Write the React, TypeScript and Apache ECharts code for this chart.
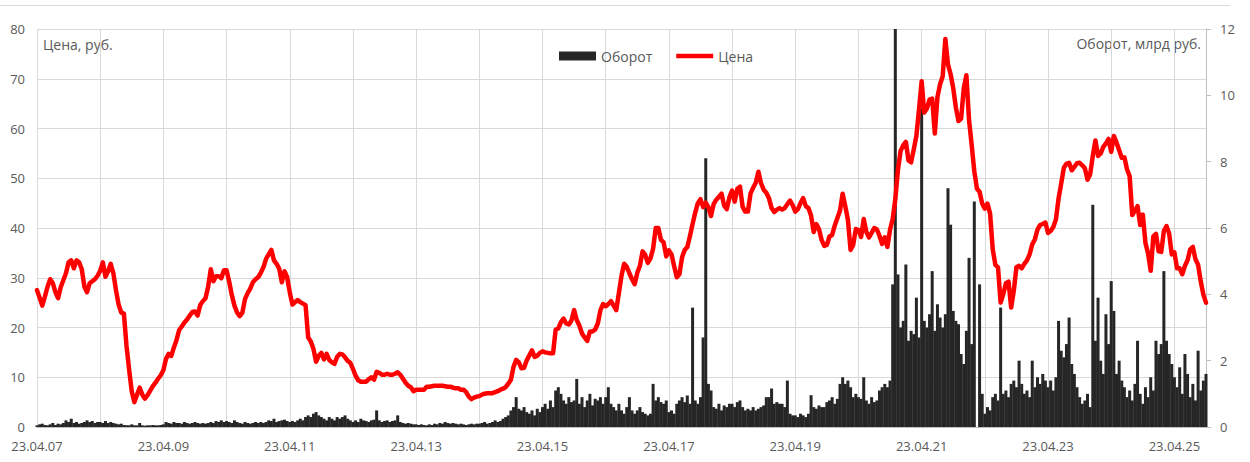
import React, { useEffect, useRef } from "react";
import * as echarts from "echarts";

// Price, rub. — one value per half month, starting 23.04.2007
const priceHalfMonthly = [
  27.5, 26.0, 24.4, 26.2, 28.2, 29.7, 28.9, 27.1, 25.9, 28.1, 29.5, 30.9, 33.1, 33.5, 31.9, 33.5, 33.1, 31.7, 28.2, 27.1, 28.9, 29.3, 29.7, 30.4,
  31.4, 33.1, 30.2, 31.3, 32.8, 30.9, 27.5, 24.6, 23.0, 22.8, 16.3, 11.5, 7.1, 5.0, 6.5, 7.9, 6.5, 5.7, 6.4, 7.3, 8.2, 8.9, 9.7, 10.4,
  11.4, 13.7, 14.7, 14.3, 16.0, 17.5, 19.5, 20.2, 21.0, 21.6, 22.4, 23.1, 23.2, 22.4, 24.5, 25.3, 25.9, 28.2, 31.7, 29.3, 30.3, 30.3, 29.9, 31.5,
  31.5, 29.2, 26.5, 24.4, 23.0, 22.3, 23.0, 25.7, 26.9, 27.8, 29.1, 29.7, 30.1, 31.0, 32.1, 33.8, 34.7, 35.6, 33.5, 32.8, 31.8, 29.1, 31.3, 30.1,
  27.1, 24.6, 25.1, 25.5, 25.1, 24.8, 24.5, 18.0, 17.2, 15.7, 13.1, 14.3, 14.9, 13.6, 14.7, 13.5, 13.0, 12.7, 14.1, 14.7, 14.6, 14.0, 13.3, 12.9,
  11.7, 10.3, 9.4, 9.1, 9.1, 9.1, 9.6, 10.0, 9.5, 11.1, 10.9, 10.5, 10.5, 10.7, 10.5, 10.5, 10.7, 11.0, 10.5, 9.7, 8.9, 8.3, 8.0, 7.2,
  7.5, 7.5, 7.5, 7.5, 8.1, 8.1, 8.2, 8.3, 8.3, 8.3, 8.3, 8.2, 8.1, 8.1, 7.9, 7.8, 7.8, 7.5, 7.5, 7.0, 6.1, 5.6, 5.9, 6.1,
  6.2, 6.5, 6.7, 6.8, 6.8, 6.8, 7.0, 7.2, 7.5, 7.7, 8.0, 8.7, 9.5, 12.1, 13.5, 13.0, 11.8, 11.9, 13.4, 14.4, 15.4, 14.1, 14.3, 14.9,
  15.2, 15.0, 14.9, 14.8, 14.8, 19.6, 19.8, 21.1, 21.8, 20.8, 20.6, 21.4, 23.5, 21.5, 20.4, 18.8, 18.0, 17.3, 19.2, 19.2, 19.6, 20.8, 23.5, 24.7,
  24.3, 24.7, 25.3, 24.4, 23.5, 26.9, 30.4, 32.8, 32.2, 30.9, 29.7, 28.7, 31.0, 32.4, 35.3, 34.6, 33.0, 33.9, 35.8, 40.0, 40.0, 37.6, 37.1, 34.3,
  35.5, 34.7, 32.3, 30.1, 30.7, 34.1, 35.6, 36.2, 38.4, 40.8, 43.1, 45.0, 45.8, 44.2, 45.1, 44.2, 42.4, 44.8, 45.7, 46.3, 46.9, 44.5, 43.8, 46.2,
  47.5, 45.3, 47.9, 48.3, 44.3, 43.3, 43.3, 46.9, 48.1, 49.1, 51.3, 49.0, 47.7, 47.1, 46.0, 44.0, 43.2, 43.7, 44.0, 43.7, 44.0, 44.8, 45.5, 44.6,
  43.3, 43.8, 45.0, 46.0, 44.4, 44.0, 42.5, 39.2, 40.8, 39.8, 37.6, 36.4, 36.6, 38.3, 38.6, 40.5, 42.0, 43.5, 46.9, 44.4, 41.6, 35.6, 36.6, 39.8,
  39.6, 38.2, 41.8, 39.2, 38.1, 39.0, 40.0, 39.7, 38.4, 36.8, 38.1, 36.2, 39.7, 41.8, 45.8, 51.7, 55.5, 56.6, 57.3, 53.6, 53.2, 55.8, 58.5, 63.8,
  69.5, 63.2, 64.0, 65.8, 66.0, 59.0, 66.3, 68.9, 70.5, 78.0, 72.9, 70.9, 68.1, 64.2, 61.5, 62.0, 68.1, 70.7, 61.7, 56.7, 51.4, 47.9, 47.3, 44.9,
  43.9, 44.9, 42.9, 35.7, 32.6, 32.1, 25.0, 26.7, 28.9, 29.2, 24.0, 27.4, 32.1, 32.4, 31.9, 32.8, 33.5, 34.7, 36.7, 37.7, 39.7, 40.6, 40.8, 41.1,
  39.0, 39.4, 40.2, 41.7, 45.9, 48.9, 52.1, 52.9, 53.1, 51.6, 52.3, 53.0, 53.1, 52.6, 52.0, 49.7, 50.8, 54.5, 57.6, 54.5, 55.0, 56.3, 57.0, 57.9,
  55.3, 58.5, 57.2, 55.7, 54.1, 54.2, 51.8, 50.4, 42.6, 43.5, 44.4, 40.6, 42.7, 37.0, 34.9, 31.4, 38.3, 38.8, 35.3, 35.2, 39.4, 40.4, 38.9, 34.7,
  35.1, 31.9, 31.9, 30.7, 32.4, 33.5, 35.7, 36.2, 33.7, 32.6, 29.3, 26.6, 25.0,
];

// Turnover, bn rub. — one value per half month, starting 23.04.2007
const turnoverHalfMonthly = [
  0.05, 0.08, 0.1, 0.06, 0.05, 0.08, 0.12, 0.06, 0.1, 0.08, 0.12, 0.2, 0.15, 0.25, 0.12, 0.15, 0.1, 0.12, 0.15, 0.2, 0.15, 0.18, 0.12, 0.15,
  0.15, 0.12, 0.18, 0.12, 0.15, 0.12, 0.1, 0.08, 0.1, 0.06, 0.05, 0.05, 0.08, 0.05, 0.05, 0.12, 0.05, 0.04, 0.05, 0.05, 0.06, 0.05, 0.05, 0.06,
  0.08, 0.15, 0.12, 0.1, 0.15, 0.12, 0.12, 0.1, 0.15, 0.12, 0.1, 0.12, 0.15, 0.12, 0.1, 0.12, 0.1, 0.12, 0.15, 0.12, 0.18, 0.15, 0.2, 0.15,
  0.18, 0.15, 0.12, 0.2, 0.15, 0.12, 0.1, 0.15, 0.12, 0.1, 0.12, 0.15, 0.12, 0.15, 0.12, 0.15, 0.2, 0.18, 0.25, 0.15, 0.18, 0.2, 0.22, 0.18,
  0.15, 0.18, 0.15, 0.2, 0.25, 0.2, 0.3, 0.35, 0.3, 0.4, 0.45, 0.35, 0.3, 0.25, 0.2, 0.3, 0.25, 0.2, 0.3, 0.25, 0.3, 0.35, 0.25, 0.2,
  0.15, 0.2, 0.15, 0.25, 0.2, 0.18, 0.15, 0.2, 0.22, 0.5, 0.2, 0.15, 0.18, 0.2, 0.15, 0.18, 0.2, 0.35, 0.15, 0.12, 0.1, 0.12, 0.1, 0.08,
  0.08, 0.06, 0.08, 0.06, 0.05, 0.08, 0.06, 0.1, 0.08, 0.12, 0.1, 0.15, 0.12, 0.1, 0.12, 0.1, 0.08, 0.1, 0.08, 0.06, 0.08, 0.1, 0.08, 0.1,
  0.1, 0.12, 0.15, 0.1, 0.12, 0.15, 0.2, 0.15, 0.18, 0.25, 0.3, 0.35, 0.5, 0.6, 0.9, 0.55, 0.5, 0.6, 0.45, 0.4, 0.5, 0.35, 0.55, 0.45,
  0.6, 0.7, 0.55, 0.8, 0.6, 1.1, 1.2, 1.0, 0.8, 0.7, 0.9, 0.75, 0.8, 1.45, 0.7, 0.9, 0.6, 0.8, 1.0, 0.65, 0.85, 0.8, 0.9, 0.7,
  0.9, 1.2, 0.7, 0.6, 0.5, 0.7, 0.5, 0.4, 0.6, 0.9, 0.5, 0.4, 0.5, 0.6, 0.45, 0.4, 0.35, 0.4, 1.3, 0.8, 0.9, 0.75, 0.7, 0.8,
  0.45, 0.5, 0.4, 0.7, 0.8, 0.9, 0.75, 0.95, 0.7, 3.6, 0.8, 0.7, 0.9, 2.7, 8.1, 1.3, 1.1, 0.6, 0.55, 0.7, 0.5, 0.65, 0.6, 0.7,
  0.7, 0.6, 0.75, 0.8, 0.6, 0.5, 0.55, 0.5, 0.6, 0.5, 0.55, 0.6, 0.65, 0.9, 0.9, 1.16, 0.7, 0.75, 0.7, 0.7, 0.6, 1.4, 0.4, 0.35,
  0.35, 0.3, 0.4, 0.35, 0.3, 0.4, 0.96, 0.6, 0.55, 0.65, 0.6, 0.6, 0.75, 0.8, 0.9, 0.7, 0.85, 1.3, 1.5, 1.3, 1.4, 1.2, 0.9, 1.0,
  0.9, 0.85, 1.5, 0.8, 0.7, 0.9, 0.75, 0.8, 1.1, 1.2, 1.3, 1.2, 1.4, 4.3, 12.0, 4.6, 3.0, 3.2, 4.9, 2.6, 2.9, 2.8, 3.9, 2.7,
  9.6, 3.2, 3.0, 3.4, 4.7, 2.9, 3.7, 3.3, 3.0, 3.4, 7.2, 6.1, 3.5, 3.2, 3.1, 2.2, 1.9, 2.9, 5.1, 2.5, 6.8, 0, 4.3, 1.0,
  0.4, 0.6, 0.5, 0.9, 1.0, 0.8, 3.6, 1.0, 1.1, 0.9, 1.3, 1.4, 1.2, 2.0, 1.3, 1.0, 1.1, 0.9, 2.0, 1.2, 1.5, 1.3, 1.6, 1.4,
  1.2, 1.4, 1.1, 1.5, 3.2, 2.3, 2.1, 2.5, 3.3, 1.9, 1.6, 1.2, 0.9, 0.7, 0.8, 1.0, 0.6, 6.7, 2.6, 3.9, 2.0, 1.6, 3.4, 2.5,
  4.4, 3.5, 1.6, 2.0, 1.4, 1.2, 0.9, 1.1, 0.8, 1.3, 2.6, 1.0, 0.7, 1.2, 0.9, 1.5, 1.1, 2.6, 2.2, 2.5, 4.7, 2.6, 2.2, 1.9,
  1.5, 1.2, 1.8, 1.0, 2.2, 1.6, 0.9, 1.3, 0.8, 2.3, 1.1, 1.4, 1.6,
];

const xTickYears = [7, 9, 11, 13, 15, 17, 19, 21, 23, 25];
const seriesNames = ["Оборот", "Цена"];

export default function App() {
  const ref = useRef<HTMLDivElement>(null);

  useEffect(() => {
    if (!ref.current) return;
    const chart = echarts.init(ref.current, undefined, { renderer: "svg" });

    // x = years elapsed since 23.04.2007
    const pricePoints = priceHalfMonthly.map((v, i) => [i / 24, v]);
    const turnoverPoints = turnoverHalfMonthly.map((v, i) => [i / 24, v]);

    const font = '"Open Sans", sans-serif';
    const grey = "#595959";

    chart.setOption({
      animation: false,
      backgroundColor: "#ffffff",
      grid: { left: 37, right: 44, top: 29, bottom: 35, containLabel: false },
      legend: {
        data: [
          { name: seriesNames[0], icon: "rect" },
          { name: seriesNames[1], icon: "path://M0 0H38V4.5H0Z" },
        ],
        left: 554,
        top: 44,
        itemWidth: 37,
        itemHeight: 9,
        itemGap: 24,
        textStyle: { color: grey, fontSize: 14, fontFamily: font },
      },
      xAxis: {
        type: "value",
        min: 0,
        max: 18.5,
        interval: 1,
        axisLine: { show: true, lineStyle: { color: "#bfbfbf" } },
        axisTick: { show: false },
        splitLine: { show: true, lineStyle: { color: "#d9d9d9", width: 1 } },
        axisLabel: {
          color: grey,
          fontSize: 13,
          fontFamily: font,
          margin: 12,
          showMaxLabel: false,
          formatter: (v: number) => {
            const yy = 7 + Math.round(v);
            return xTickYears.includes(yy) ? "23.04." + String(yy).padStart(2, "0") : "";
          },
        },
      },
      yAxis: [
        {
          type: "value",
          min: 0,
          max: 80,
          interval: 10,
          position: "left",
          axisLine: { show: false },
          axisTick: { show: false },
          splitLine: { show: true, lineStyle: { color: "#d9d9d9", width: 1 } },
          axisLabel: { color: grey, fontSize: 13, fontFamily: font, margin: 12 },
        },
        {
          type: "value",
          min: 0,
          max: 12,
          interval: 2,
          position: "right",
          axisLine: { show: true, lineStyle: { color: "#bfbfbf" } },
          axisTick: { show: true, length: 5, lineStyle: { color: "#bfbfbf" } },
          splitLine: { show: false },
          axisLabel: { color: grey, fontSize: 13, fontFamily: font, margin: 14 },
        },
      ],
      graphic: [
        {
          type: "line",
          shape: { x1: 0, y1: 5.5, x2: 1230, y2: 5.5 },
          style: { stroke: "#d9d9d9", lineWidth: 1 },
          silent: true,
        },
        {
          type: "text",
          left: 43,
          top: 37,
          style: { text: "Цена, руб.", fill: grey, font: `14px ${font}` },
        },
        {
          type: "text",
          right: 49,
          top: 36,
          style: { text: "Оборот, млрд руб.", fill: grey, font: `14px ${font}` },
        },
      ],
      series: [
        {
          name: "Оборот",
          type: "bar",
          yAxisIndex: 1,
          data: turnoverPoints,
          barWidth: 3,
          itemStyle: { color: "#262626" },
          clip: true,
        },
        {
          name: "Цена",
          type: "line",
          yAxisIndex: 0,
          data: pricePoints,
          symbol: "none",
          lineStyle: { color: "#ff0000", width: 4.5, join: "round", cap: "round" },
          itemStyle: { color: "#ff0000" },
          z: 3,
        },
      ],
    });

    return () => chart.dispose();
  }, []);

  return (
    <div
      ref={ref}
      style={{ position: "absolute", left: 0, top: 0, width: 1250, height: 462, background: "#fff" }}
    />
  );
}
